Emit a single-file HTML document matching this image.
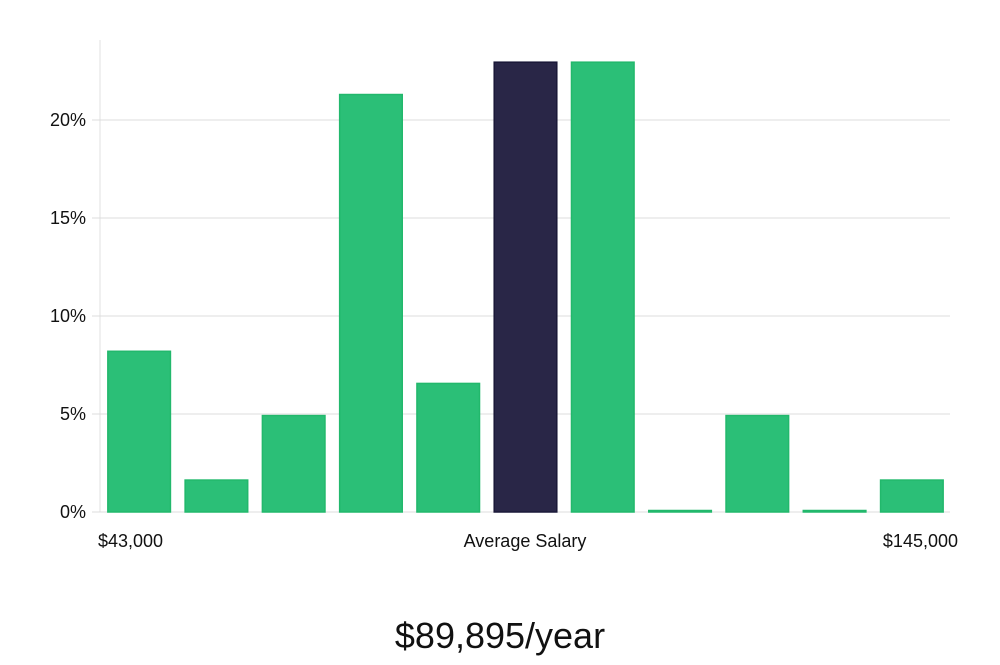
<!DOCTYPE html>
<html><head><meta charset="utf-8"><style>
body{margin:0;background:#fff;width:1000px;height:660px;overflow:hidden;font-family:"Liberation Sans","DejaVu Sans",sans-serif}
</style></head><body>
<svg width="1000" height="660" id="chart">
<g id="grid"></g><g id="bars"></g><g id="labels"></g>
</svg>
<script>
const categories=["b1","b2","b3","b4","b5","b6","b7","b8","b9","b10","b11"];
const values=[8.2,1.63,4.92,21.3,6.56,22.95,22.95,0,4.92,0,1.63];
const highlight=[false,false,false,false,false,true,false,false,false,false,false];
const yTicks=[0,5,10,15,20];
const yTickLabels=["0%","5%","10%","15%","20%"];
const xLabels=["$43,000","Average Salary","$145,000"];
const salaryText="$89,895/year";

const ns="http://www.w3.org/2000/svg";
const x0=100,x1=950,yBase=512,pxPer=19.6;
const y=v=>yBase-v*pxPer;
const step=(x1-x0)/categories.length;
const bw=step*0.81;
function mk(t,a,p){const e=document.createElementNS(ns,t);for(const k in a)e.setAttribute(k,a[k]);p.appendChild(e);return e;}
const grid=document.getElementById('grid'),bars=document.getElementById('bars'),labels=document.getElementById('labels');
const ax=mk('line',{x1:x0,x2:x0,y1:40,y2:yBase,stroke:'#e0e0e0'},grid);


yTicks.forEach((t,i)=>{
 const g=mk('line',{x1:x0-8,x2:x1,y1:y(t),y2:y(t),stroke:'#dcdcdc'},grid);
 
 
 const tx=mk('text',{x:86,y:y(t)+6,'text-anchor':'end','font-size':18,fill:'#111'},labels);
 tx.textContent=yTickLabels[i];
 
 
});
categories.forEach((c,i)=>{
 const v=values[i];
 const bx=x0+step*i+(step-bw)/2+0.5;
 const h=Math.max(yBase-y(v),1.5);
 const col=highlight[i]?'#292647':'#2bbf77';
 const r=mk('rect',{x:bx,y:yBase-h,width:bw,height:h,fill:col,stroke:highlight[i]?'#1a1838':'#22b86c','stroke-width':1.5},bars);
 
 
});
const xs=[[98,'start'],[525,'middle'],[958,'end']];
xLabels.forEach((l,i)=>{
 const t=mk('text',{x:xs[i][0],y:547,'text-anchor':xs[i][1],'font-size':18,fill:'#111'},labels);
 t.textContent=l;
 
 
});
const s=mk('text',{x:500,y:648,'text-anchor':'middle','font-size':36,fill:'#111'},labels);
s.textContent=salaryText;


</script>
</body></html>
